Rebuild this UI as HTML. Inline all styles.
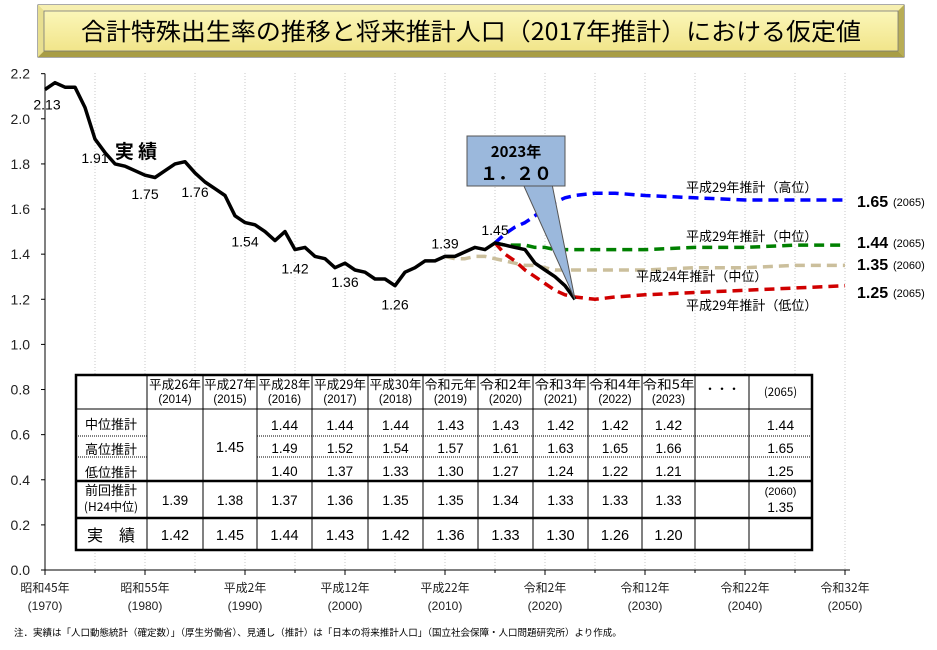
<!DOCTYPE html>
<html><head><meta charset="utf-8">
<style>
html,body{margin:0;padding:0;background:#fff;}
body{width:937px;height:645px;overflow:hidden;position:relative;font-family:"Liberation Sans","Noto Sans CJK JP",sans-serif;}
svg text{font-family:"Liberation Sans","Noto Sans CJK JP",sans-serif;}
.jp{font-family:"Noto Sans CJK JP","Liberation Sans",sans-serif;}
</style></head>
<body>
<svg id="chart" width="937" height="645" viewBox="0 0 937 645" xmlns="http://www.w3.org/2000/svg">
  <defs>
    <linearGradient id="tg" x1="0" y1="0" x2="0" y2="1">
      <stop offset="0" stop-color="#fbf6b8"/><stop offset="1" stop-color="#f1e58a"/>
    </linearGradient>
  </defs>
  <g>
    <rect x="38" y="5" width="866" height="52" fill="#d9cf72" stroke="#555" stroke-width="1"/>
    <polygon points="38,5 904,5 898,11 44,11" fill="#f6efb0"/>
    <polygon points="38,57 904,57 898,51 44,51" fill="#a89d45"/>
    <polygon points="38,5 44,11 44,51 38,57" fill="#e8df90"/>
    <polygon points="904,5 898,11 898,51 904,57" fill="#b8ad55"/>
    <rect x="44" y="11" width="854" height="40" fill="url(#tg)" stroke="#777" stroke-width="0.8"/>
    <text class="jp" x="471" y="40" font-size="24" text-anchor="middle" fill="#000" textLength="780" lengthAdjust="spacingAndGlyphs">合計特殊出生率の推移と将来推計人口（2017年推計）における仮定値</text>
  </g>
  <g id="grid"></g>
  <g id="axes"></g>
  <g id="series"></g>
  <g id="labels"></g>
  <g id="table"></g>
  <text class="jp" x="14" y="636" font-size="9.5" fill="#000">注．実績は「人口動態統計（確定数）」（厚生労働省）、見通し（推計）は「日本の将来推計人口」（国立社会保障・人口問題研究所）より作成。</text>
</svg>
<script>
// ---- data ----
const actualYears = [1970,1971,1972,1973,1974,1975,1976,1977,1978,1979,1980,1981,1982,1983,1984,1985,1986,1987,1988,1989,1990,1991,1992,1993,1994,1995,1996,1997,1998,1999,2000,2001,2002,2003,2004,2005,2006,2007,2008,2009,2010,2011,2012,2013,2014,2015,2016,2017,2018,2019,2020,2021,2022,2023];
const actualValues = [2.13,2.16,2.14,2.14,2.05,1.91,1.85,1.80,1.79,1.77,1.75,1.74,1.77,1.80,1.81,1.76,1.72,1.69,1.66,1.57,1.54,1.53,1.50,1.46,1.50,1.42,1.43,1.39,1.38,1.34,1.36,1.33,1.32,1.29,1.29,1.26,1.32,1.34,1.37,1.37,1.39,1.39,1.41,1.43,1.42,1.45,1.44,1.43,1.42,1.36,1.33,1.30,1.26,1.20];
const highYears = [2015,2016,2017,2018,2019,2020,2021,2022,2023,2025,2027,2030,2035,2040,2045,2050];
const highValues = [1.45,1.49,1.52,1.54,1.57,1.61,1.63,1.65,1.66,1.67,1.67,1.66,1.65,1.64,1.64,1.64];
const midYears = [2015,2016,2017,2018,2019,2020,2021,2022,2023,2025,2030,2035,2040,2045,2050];
const midValues = [1.45,1.44,1.44,1.44,1.43,1.43,1.42,1.42,1.42,1.42,1.42,1.43,1.43,1.44,1.44];
const lowYears = [2015,2016,2017,2018,2019,2020,2021,2022,2023,2025,2027,2030,2035,2040,2045,2050];
const lowValues = [1.45,1.40,1.37,1.33,1.30,1.27,1.24,1.22,1.21,1.20,1.21,1.22,1.23,1.24,1.25,1.26];
const prevYears = [2010,2011,2012,2013,2014,2015,2016,2017,2018,2019,2020,2021,2022,2023,2025,2030,2035,2040,2045,2050];
const prevValues = [1.39,1.38,1.38,1.39,1.39,1.38,1.37,1.36,1.35,1.35,1.34,1.33,1.33,1.33,1.33,1.33,1.34,1.34,1.35,1.35];
const yTicks = [0.0,0.2,0.4,0.6,0.8,1.0,1.2,1.4,1.6,1.8,2.0,2.2];
const xTickYears = [1970,1980,1990,2000,2010,2020,2030,2040,2050];
const xTickEra = ["昭和45年","昭和55年","平成2年","平成12年","平成22年","令和2年","令和12年","令和22年","令和32年"];
const labelYears = [1970,1975,1980,1985,1990,1995,2000,2005,2010,2015];
const labelValues = ["2.13","1.91","1.75","1.76","1.54","1.42","1.36","1.26","1.39","1.45"];
const tableHead1 = ["平成26年","平成27年","平成28年","平成29年","平成30年","令和元年","令和2年","令和3年","令和4年","令和5年","・・・",""];
const tableHead2 = ["(2014)","(2015)","(2016)","(2017)","(2018)","(2019)","(2020)","(2021)","(2022)","(2023)","","(2065)"];
const rowMid  = ["","","1.44","1.44","1.44","1.43","1.43","1.42","1.42","1.42","","1.44"];
const rowHigh = ["","","1.49","1.52","1.54","1.57","1.61","1.63","1.65","1.66","","1.65"];
const rowLow  = ["","","1.40","1.37","1.33","1.30","1.27","1.24","1.22","1.21","","1.25"];
const rowPrev = ["1.39","1.38","1.37","1.36","1.35","1.35","1.34","1.33","1.33","1.33","","1.35"];
const rowActual = ["1.42","1.45","1.44","1.43","1.42","1.36","1.33","1.30","1.26","1.20","",""];

// ---- scales ----
const NS = "http://www.w3.org/2000/svg";
const X = y => 45 + (y - 1970) * 10;
const Y = v => 570 - v * 225.6;
function mk(tag, attrs, parent, txt){
  const e = document.createElementNS(NS, tag);
  for (const k in attrs) e.setAttribute(k, attrs[k]);
  if (txt !== undefined) e.textContent = txt;
  parent.appendChild(e); return e;
}
const grid = document.getElementById('grid');
const axes = document.getElementById('axes');
const series = document.getElementById('series');
const labels = document.getElementById('labels');
const table = document.getElementById('table');

for (let yr = 1975; yr <= 2050; yr += 5){
  const g = mk('line', {x1:X(yr), x2:X(yr), y1:73, y2:570, stroke:'#c8c8c8', 'stroke-width':1, 'stroke-dasharray':'1,2'}, grid);
  
  
}
const ya = mk('line', {x1:45, x2:45, y1:Y(2.2), y2:570, stroke:'#000', 'stroke-width':1}, axes);


const xa = mk('line', {x1:45, x2:850, y1:570, y2:570, stroke:'#000', 'stroke-width':1}, axes);


yTicks.forEach(v => {
  mk('line', {x1:41, x2:45, y1:Y(v), y2:Y(v), stroke:'#000'}, axes);
  const t = mk('text', {x:30, y:Y(v)+5, 'font-size':14, 'text-anchor':'end', fill:'#222'}, axes, v.toFixed(1));
  
  
});
xTickYears.forEach((yr, i) => {
  mk('line', {x1:X(yr), x2:X(yr), y1:570, y2:575, stroke:'#000'}, axes);
  const t1 = mk('text', {x:X(yr), y:592, 'font-size':12, 'text-anchor':'middle', fill:'#222', class:'jp'}, axes, xTickEra[i]);
  
  
  const t2 = mk('text', {x:X(yr), y:610, 'font-size':12, 'text-anchor':'middle', fill:'#222'}, axes, '(' + yr + ')');
  
  
});
for (let yr = 1975; yr <= 2050; yr += 10){ mk('line', {x1:X(yr), x2:X(yr), y1:570, y2:573, stroke:'#000'}, axes); }

function path(yrs, vals){ return yrs.map((y,i)=> (i?'L':'M') + X(y).toFixed(1) + ',' + Y(vals[i]).toFixed(1)).join(' '); }
function drawLine(yrs, vals, color, dash, name, w){
  const p = mk('path', {d:path(yrs, vals), fill:'none', stroke:color, 'stroke-width':w, 'stroke-linejoin':'round'}, series);
  if (dash) p.setAttribute('stroke-dasharray', dash);
  
  
}
drawLine(prevYears, prevValues, '#cbbf9c', '10,6', 'line-h24-medium', 3.5);
drawLine(midYears, midValues, '#008000', '10,6', 'line-h29-medium', 3.5);
drawLine(highYears, highValues, '#0000ff', '10,6', 'line-h29-high', 3.5);
drawLine(lowYears, lowValues, '#d00000', '10,6', 'line-h29-low', 3.5);
drawLine(actualYears, actualValues, '#000', null, 'line-actual', 3.5);

labelYears.forEach((yr, i) => {
  const v = actualValues[actualYears.indexOf(yr)];
  const off = (i === 0) ? 20 : (i >= 8 ? -8 : 24);
  const t = mk('text', {x:X(yr)+(i===0?2:0), y:Y(v)+off, 'font-size':14, 'text-anchor':'middle', fill:'#000'}, labels, labelValues[i]);
  
  
});
const jl = mk('text', {x:136, y:158, 'font-size':19, 'font-weight':'bold', 'text-anchor':'middle', class:'jp', fill:'#000'}, labels, '実 績');



const lastY = actualYears[actualYears.length-1], lastV = actualValues[actualValues.length-1];
const cp = mk('polygon', {points:`523,184 552,184 ${X(lastY)},${Y(lastV)}`, fill:'#9bb8dc', stroke:'#555', 'stroke-width':1}, labels);


const cb = mk('rect', {x:467, y:136, width:98, height:50, fill:'#9bb8dc', stroke:'#555', 'stroke-width':1}, labels);


mk('text', {x:516, y:157, 'font-size':15, 'font-weight':'bold', 'text-anchor':'middle', class:'jp'}, labels, '2023年');
mk('text', {x:516, y:180, 'font-size':18, 'font-weight':'bold', 'text-anchor':'middle', class:'jp'}, labels, '１．２０');

[['平成29年推計（高位）',686,192],['平成29年推計（中位）',686,241],['平成24年推計（中位）',636,281],['平成29年推計（低位）',686,310]].forEach(s=>{
  const t = mk('text', {x:s[1], y:s[2], 'font-size':13, class:'jp', fill:'#000'}, labels, s[0]);
  
  
});
[['1.65','(2065)',207],['1.44','(2065)',248],['1.35','(2060)',270],['1.25','(2065)',298]].forEach(s=>{
  const t = mk('text', {x:857, y:s[2], 'font-size':16, 'font-weight':'bold', fill:'#000'}, labels, s[0]);
  
  
  mk('text', {x:893, y:s[2]-1, 'font-size':11, fill:'#000'}, labels, s[1]);
});

// ---- table ----
const cx = [76,147,203,257,312,368,423,478,533,588,642,695,749,812];
const ry = [375,409,436,457,481,518,550];
mk('rect', {x:cx[0], y:ry[0], width:cx[13]-cx[0], height:ry[6]-ry[0], fill:'#fff', stroke:'none'}, table);
tableHead1.forEach((h,i)=>{
  const m = (cx[i+1]+cx[i+2])/2;
  if (i === 11){ mk('text', {x:m, y:396, 'font-size':11.5, 'text-anchor':'middle', class:'jp'}, table, tableHead2[i]); return; }
  if (i === 10){ mk('text', {x:m, y:393, 'font-size':12, 'text-anchor':'middle', class:'jp'}, table, h); return; }
  mk('text', {x:m, y:389, 'font-size':12.5, 'text-anchor':'middle', class:'jp', textLength:52, lengthAdjust:'spacingAndGlyphs'}, table, h);
  mk('text', {x:m, y:403, 'font-size':11.5, 'text-anchor':'middle'}, table, tableHead2[i]);
});
[['中位推計',425],['高位推計',450],['低位推計',473]].forEach(r=> mk('text', {x:111, y:r[1]+4, 'font-size':13, 'text-anchor':'middle', class:'jp'}, table, r[0]));
mk('text', {x:111, y:495, 'font-size':13, 'text-anchor':'middle', class:'jp'}, table, '前回推計');
mk('text', {x:111, y:511, 'font-size':12, 'text-anchor':'middle', class:'jp'}, table, '(H24中位)');
mk('text', {x:111, y:541, 'font-size':16, 'text-anchor':'middle', class:'jp'}, table, '実　績');
function rowText(arr, yc, bold, fs, name){
  arr.forEach((v,i)=>{
    if (!v) return;
    const t = mk('text', {x:(cx[i+1]+cx[i+2])/2, y:yc, 'font-size':fs, 'text-anchor':'middle', fill:'#000'}, table, v);
    if (bold) t.setAttribute('font-weight','bold');
    
    
  });
}
rowText(rowMid, 430, false, 14, 'table-medium-value');
rowText(rowHigh, 453, false, 13.5, 'table-high-value');
rowText(rowLow, 476, false, 13.5, 'table-low-value');
const prevNo2065 = rowPrev.slice(0,11);
rowText(prevNo2065, 505, false, 13.5, 'table-prev-value');
mk('text', {x:(cx[12]+cx[13])/2, y:495, 'font-size':11, 'text-anchor':'middle'}, table, '(2060)');
mk('text', {x:(cx[12]+cx[13])/2, y:512, 'font-size':13.5, 'text-anchor':'middle'}, table, rowPrev[11]);
rowText(rowActual, 540, false, 14.5, 'table-actual-value');
mk('text', {x:(cx[2]+cx[3])/2, y:452, 'font-size':14.5, 'text-anchor':'middle'}, table, '1.45');
const L = (x1,y1,x2,y2,w,dash)=>{ const l = mk('line',{x1,y1,x2,y2,stroke:'#000','stroke-width':w},table); if(dash) l.setAttribute('stroke-dasharray',dash); };
L(cx[0],ry[1],cx[13],ry[1],1);
L(cx[0],ry[2],cx[1],ry[2],1,'1,1'); L(cx[0],ry[3],cx[1],ry[3],1,'1,1');
L(cx[3],ry[2],cx[13],ry[2],1,'1,1'); L(cx[3],ry[3],cx[13],ry[3],1,'1,1');
L(cx[0],ry[4],cx[13],ry[4],2.5); L(cx[0],ry[5],cx[13],ry[5],2.5);
for (let i=1;i<13;i++){ L(cx[i],ry[0],cx[i],ry[6],1); }
const tb = mk('rect', {x:cx[0], y:ry[0], width:cx[13]-cx[0], height:ry[6]-ry[0], fill:'none', stroke:'#000', 'stroke-width':2.5}, table);


</script>
</body></html>
